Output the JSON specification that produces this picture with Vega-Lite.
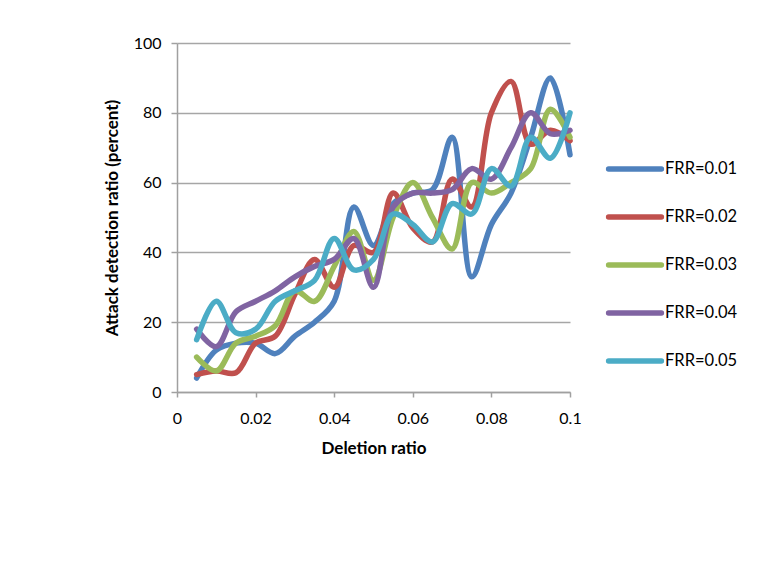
{
  "$schema": "https://vega.github.io/schema/vega-lite/v6.json",
  "autosize": "none",
  "width": 393,
  "height": 349,
  "padding": {"left": 177, "top": 43, "right": 204, "bottom": 170},
  "background": "white",
  "config": {
    "view": {"stroke": null},
    "font": "Lato",
    "axis": {
      "labelFont": "Lato",
      "titleFont": "Lato",
      "labelFontSize": 16,
      "titleFontSize": 17,
      "titleFontWeight": "bold",
      "labelColor": "#000000",
      "titleColor": "#000000",
      "domainColor": "#a0a0a0",
      "domainWidth": 1.5,
      "tickColor": "#a0a0a0",
      "tickWidth": 1.5,
      "gridColor": "#a6a6a6",
      "gridWidth": 1.5
    },
    "legend": {"labelFont": "Lato", "labelFontSize": 16.5, "labelColor": "#000000"}
  },
  "data": {
    "values": [
      {"x": 0.005, "y": 4, "s": "FRR=0.01"}, {"x": 0.01, "y": 12, "s": "FRR=0.01"}, {"x": 0.015, "y": 14, "s": "FRR=0.01"}, {"x": 0.02, "y": 14, "s": "FRR=0.01"}, {"x": 0.025, "y": 11, "s": "FRR=0.01"}, {"x": 0.03, "y": 16, "s": "FRR=0.01"}, {"x": 0.035, "y": 20, "s": "FRR=0.01"}, {"x": 0.04, "y": 26, "s": "FRR=0.01"}, {"x": 0.045, "y": 53, "s": "FRR=0.01"}, {"x": 0.05, "y": 42, "s": "FRR=0.01"}, {"x": 0.055, "y": 54, "s": "FRR=0.01"}, {"x": 0.06, "y": 57, "s": "FRR=0.01"}, {"x": 0.065, "y": 58, "s": "FRR=0.01"}, {"x": 0.07, "y": 73, "s": "FRR=0.01"}, {"x": 0.075, "y": 33, "s": "FRR=0.01"}, {"x": 0.08, "y": 48, "s": "FRR=0.01"}, {"x": 0.085, "y": 57, "s": "FRR=0.01"}, {"x": 0.09, "y": 73, "s": "FRR=0.01"}, {"x": 0.095, "y": 90, "s": "FRR=0.01"}, {"x": 0.1, "y": 68, "s": "FRR=0.01"},
      {"x": 0.005, "y": 5, "s": "FRR=0.02"}, {"x": 0.01, "y": 6, "s": "FRR=0.02"}, {"x": 0.015, "y": 5.5, "s": "FRR=0.02"}, {"x": 0.02, "y": 14, "s": "FRR=0.02"}, {"x": 0.025, "y": 16, "s": "FRR=0.02"}, {"x": 0.03, "y": 28, "s": "FRR=0.02"}, {"x": 0.035, "y": 38, "s": "FRR=0.02"}, {"x": 0.04, "y": 30, "s": "FRR=0.02"}, {"x": 0.045, "y": 42, "s": "FRR=0.02"}, {"x": 0.05, "y": 40, "s": "FRR=0.02"}, {"x": 0.055, "y": 57, "s": "FRR=0.02"}, {"x": 0.06, "y": 47, "s": "FRR=0.02"}, {"x": 0.065, "y": 43, "s": "FRR=0.02"}, {"x": 0.07, "y": 61, "s": "FRR=0.02"}, {"x": 0.075, "y": 53, "s": "FRR=0.02"}, {"x": 0.08, "y": 80, "s": "FRR=0.02"}, {"x": 0.085, "y": 89, "s": "FRR=0.02"}, {"x": 0.09, "y": 71, "s": "FRR=0.02"}, {"x": 0.095, "y": 75, "s": "FRR=0.02"}, {"x": 0.1, "y": 72, "s": "FRR=0.02"},
      {"x": 0.005, "y": 10, "s": "FRR=0.03"}, {"x": 0.01, "y": 6, "s": "FRR=0.03"}, {"x": 0.015, "y": 14, "s": "FRR=0.03"}, {"x": 0.02, "y": 16, "s": "FRR=0.03"}, {"x": 0.025, "y": 19, "s": "FRR=0.03"}, {"x": 0.03, "y": 29, "s": "FRR=0.03"}, {"x": 0.035, "y": 26, "s": "FRR=0.03"}, {"x": 0.04, "y": 36, "s": "FRR=0.03"}, {"x": 0.045, "y": 46, "s": "FRR=0.03"}, {"x": 0.05, "y": 32, "s": "FRR=0.03"}, {"x": 0.055, "y": 50, "s": "FRR=0.03"}, {"x": 0.06, "y": 60, "s": "FRR=0.03"}, {"x": 0.065, "y": 50, "s": "FRR=0.03"}, {"x": 0.07, "y": 41, "s": "FRR=0.03"}, {"x": 0.075, "y": 60, "s": "FRR=0.03"}, {"x": 0.08, "y": 57, "s": "FRR=0.03"}, {"x": 0.085, "y": 60, "s": "FRR=0.03"}, {"x": 0.09, "y": 64, "s": "FRR=0.03"}, {"x": 0.095, "y": 81, "s": "FRR=0.03"}, {"x": 0.1, "y": 73, "s": "FRR=0.03"},
      {"x": 0.005, "y": 18, "s": "FRR=0.04"}, {"x": 0.01, "y": 13, "s": "FRR=0.04"}, {"x": 0.015, "y": 23, "s": "FRR=0.04"}, {"x": 0.02, "y": 26, "s": "FRR=0.04"}, {"x": 0.025, "y": 29, "s": "FRR=0.04"}, {"x": 0.03, "y": 33, "s": "FRR=0.04"}, {"x": 0.035, "y": 36, "s": "FRR=0.04"}, {"x": 0.04, "y": 38, "s": "FRR=0.04"}, {"x": 0.045, "y": 44, "s": "FRR=0.04"}, {"x": 0.05, "y": 30, "s": "FRR=0.04"}, {"x": 0.055, "y": 53, "s": "FRR=0.04"}, {"x": 0.06, "y": 57, "s": "FRR=0.04"}, {"x": 0.065, "y": 57, "s": "FRR=0.04"}, {"x": 0.07, "y": 58, "s": "FRR=0.04"}, {"x": 0.075, "y": 64, "s": "FRR=0.04"}, {"x": 0.08, "y": 61, "s": "FRR=0.04"}, {"x": 0.085, "y": 70, "s": "FRR=0.04"}, {"x": 0.09, "y": 80, "s": "FRR=0.04"}, {"x": 0.095, "y": 74, "s": "FRR=0.04"}, {"x": 0.1, "y": 75, "s": "FRR=0.04"},
      {"x": 0.005, "y": 15, "s": "FRR=0.05"}, {"x": 0.01, "y": 26, "s": "FRR=0.05"}, {"x": 0.015, "y": 17, "s": "FRR=0.05"}, {"x": 0.02, "y": 18, "s": "FRR=0.05"}, {"x": 0.025, "y": 26, "s": "FRR=0.05"}, {"x": 0.03, "y": 29, "s": "FRR=0.05"}, {"x": 0.035, "y": 32, "s": "FRR=0.05"}, {"x": 0.04, "y": 44, "s": "FRR=0.05"}, {"x": 0.045, "y": 35, "s": "FRR=0.05"}, {"x": 0.05, "y": 38, "s": "FRR=0.05"}, {"x": 0.055, "y": 51, "s": "FRR=0.05"}, {"x": 0.06, "y": 48, "s": "FRR=0.05"}, {"x": 0.065, "y": 43, "s": "FRR=0.05"}, {"x": 0.07, "y": 54, "s": "FRR=0.05"}, {"x": 0.075, "y": 51, "s": "FRR=0.05"}, {"x": 0.08, "y": 64, "s": "FRR=0.05"}, {"x": 0.085, "y": 59, "s": "FRR=0.05"}, {"x": 0.09, "y": 73, "s": "FRR=0.05"}, {"x": 0.095, "y": 67, "s": "FRR=0.05"}, {"x": 0.1, "y": 80, "s": "FRR=0.05"}
    ]
  },
  "mark": {"type": "line", "interpolate": "catmull-rom", "strokeWidth": 5.5, "strokeCap": "round", "strokeJoin": "round"},
  "encoding": {
    "x": {
      "field": "x", "type": "quantitative",
      "scale": {"domain": [0, 0.1], "nice": false, "zero": false},
      "axis": {"title": "Deletion ratio", "values": [0, 0.02, 0.04, 0.06, 0.08, 0.1], "format": ".2~f", "grid": false, "tickSize": 5, "labelPadding": 13, "titlePadding": 14, "labelFlush": false}
    },
    "y": {
      "field": "y", "type": "quantitative",
      "scale": {"domain": [0, 100], "nice": false},
      "axis": {"title": "Attack detection ratio (percent)", "values": [0, 20, 40, 60, 80, 100], "tickSize": 6, "labelPadding": 10, "titlePadding": 12, "grid": true}
    },
    "color": {
      "field": "s", "type": "nominal",
      "scale": {"domain": ["FRR=0.01", "FRR=0.02", "FRR=0.03", "FRR=0.04", "FRR=0.05"], "range": ["#4F81BD", "#C0504D", "#9BBB59", "#8064A2", "#4BACC6"]},
      "legend": {
        "title": null,
        "orient": "none",
        "legendX": 431,
        "legendY": 99,
        "padding": 0,
        "symbolType": "M-1.1,0L1.1,0",
        "symbolSize": 2304,
        "symbolStrokeWidth": 5.5,
        "rowPadding": 10,
        "labelOffset": 3,
        "encode": {"symbols": {"update": {"strokeCap": {"value": "round"}}}}
      }
    }
  }
}
